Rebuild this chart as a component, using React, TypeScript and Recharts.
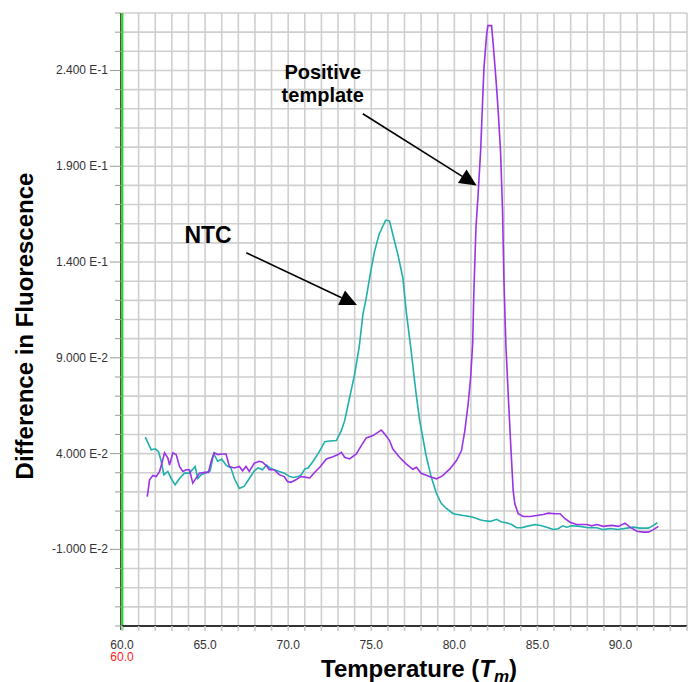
import React from 'react';
import { LineChart, Line, XAxis, YAxis, CartesianGrid, ReferenceLine, ReferenceDot } from 'recharts';

const FONT = '"Liberation Sans", Arial, sans-serif';

// NTC melt curve (teal)
const ntcTemp = [
  61.4, 61.76, 62.0, 62.2, 62.36, 62.52, 62.76, 62.96, 63.2, 63.46, 63.76, 64.06, 64.4, 64.56, 64.76,
  65.06, 65.3, 65.52, 65.76, 66.0, 66.26, 66.56, 66.76, 67.06, 67.36, 67.66, 67.96, 68.2, 68.45, 68.7,
  68.9, 69.16, 69.46, 69.76, 70.1, 70.3, 70.6, 70.8, 71.0, 71.2, 71.5, 71.8, 72.0, 72.2, 72.5, 72.9,
  73.2, 73.4, 73.7, 74.0, 74.27, 74.5, 74.7, 74.97, 75.2, 75.47, 75.7, 75.87, 76.1, 76.3, 76.6, 76.9,
  77.1, 77.4, 77.7, 77.9, 78.3, 78.6, 78.93, 79.2, 79.5, 79.93, 80.53, 80.93, 81.13, 81.54, 81.73,
  82.14, 82.34, 82.54, 82.84, 83.14, 83.45, 83.75, 84.05, 84.35, 84.85, 85.25, 85.65, 85.95, 86.25,
  86.52, 86.76, 87.06, 87.56, 88.06, 88.57, 88.96, 89.37, 89.87, 90.37, 90.77, 91.17, 91.67, 91.98, 92.22,
];
const ntcValue = [
  0.0486, 0.042, 0.0425, 0.041, 0.036, 0.029, 0.0307, 0.027, 0.0237, 0.027, 0.0298, 0.0298, 0.0333, 0.027, 0.029,
  0.03, 0.031, 0.04, 0.036, 0.037, 0.034, 0.0325, 0.027, 0.0218, 0.023, 0.027, 0.031, 0.0325, 0.0316, 0.034,
  0.0325, 0.0316, 0.0307, 0.0298, 0.028, 0.0275, 0.028, 0.029, 0.032, 0.0325, 0.036, 0.04, 0.043, 0.0462, 0.0466, 0.0468,
  0.052, 0.0572, 0.0693, 0.0815, 0.0954, 0.1128, 0.1214, 0.1353, 0.1457, 0.1544, 0.1588, 0.1619, 0.1614, 0.1544, 0.144, 0.1318,
  0.1145, 0.0936, 0.0711, 0.058, 0.039, 0.028, 0.019, 0.0142, 0.0115, 0.0086, 0.0077, 0.0072, 0.0068, 0.0055, 0.0051,
  0.0046, 0.0051, 0.0057, 0.0043, 0.0039, 0.003, 0.0013, 0.0013, 0.002, 0.003, 0.0023, 0.0013, 0.0004, 0.0008,
  0.0023, 0.0016, 0.0023, 0.002, 0.0013, 0.0013, 0.0003, 0.0009, 0.0004, 0.0011, 0.0016, 0.0011, 0.0011, 0.0025, 0.0039,
];

// Positive template melt curve (purple)
const posTemp = [
  61.52, 61.66, 61.86, 62.06, 62.26, 62.4, 62.56, 62.76, 62.86, 63.06, 63.26, 63.46, 63.66, 63.86, 64.06,
  64.26, 64.46, 64.66, 64.96, 65.2, 65.4, 65.56, 65.76, 66.0, 66.26, 66.46, 66.76, 67.06, 67.26, 67.46,
  67.66, 67.96, 68.26, 68.46, 68.7, 68.86, 69.16, 69.46, 69.76, 69.96, 70.16, 70.46, 70.76, 71.0, 71.3,
  71.6, 71.9, 72.3, 72.7, 73.0, 73.2, 73.4, 73.7, 74.1, 74.4, 74.7, 75.1, 75.4, 75.6, 75.8, 76.1, 76.3,
  76.7, 77.1, 77.5, 77.72, 78.0, 78.5, 78.93, 79.3, 79.73, 80.13, 80.43, 80.63, 80.83, 80.98, 81.1, 81.17,
  81.3, 81.43, 81.58, 81.7, 81.78, 81.94, 82.02, 82.24, 82.34, 82.5, 82.64, 82.78, 82.9, 82.98, 83.1,
  83.24, 83.39, 83.54, 83.64, 83.84, 84.15, 84.55, 84.95, 85.35, 85.65, 86.05, 86.36, 86.66, 86.96,
  87.36, 87.96, 88.27, 88.57, 88.96, 89.47, 89.87, 90.27, 90.57, 90.98, 91.37, 91.67, 91.98, 92.28,
];
const posValue = [
  0.0175, 0.0263, 0.0286, 0.028, 0.0307, 0.035, 0.0404, 0.0377, 0.034, 0.0404, 0.0395, 0.0333, 0.0307, 0.0316, 0.0316,
  0.0246, 0.0272, 0.0298, 0.0302, 0.0302, 0.037, 0.0404, 0.0395, 0.0398, 0.0398, 0.0333, 0.0325, 0.0333, 0.031, 0.0333,
  0.0307, 0.035, 0.036, 0.0355, 0.0335, 0.0316, 0.0316, 0.029, 0.028, 0.0254, 0.025, 0.0263, 0.028, 0.0277, 0.0273,
  0.0303, 0.0329, 0.0372, 0.0384, 0.0395, 0.0407, 0.0381, 0.0372, 0.0398, 0.0442, 0.0482, 0.0494, 0.0511, 0.0523, 0.0503, 0.0468, 0.0424,
  0.0381, 0.0346, 0.0318, 0.0329, 0.0297, 0.028, 0.0268, 0.0285, 0.032, 0.0364, 0.0416, 0.052, 0.0659, 0.0797, 0.097, 0.1232,
  0.1579, 0.1753, 0.1978, 0.2239, 0.2412, 0.2586, 0.2634, 0.2634, 0.2534, 0.236, 0.2186, 0.1978, 0.1666, 0.1318, 0.097,
  0.0711, 0.045, 0.0207, 0.0138, 0.0086, 0.0072, 0.0072, 0.0077, 0.0082, 0.0089, 0.0086, 0.0086, 0.006, 0.0042,
  0.003, 0.003, 0.0023, 0.003, 0.002, 0.0025, 0.002, 0.0037, 0.0016, -0.0005, -0.001, -0.001, 0.0003, 0.002,
];

const xTicks = Array.from({ length: 35 }, (_, i) => 60 + i);
const xLabelTicks = [60, 65, 70, 75, 80, 85, 90];
const yTicks = Array.from({ length: 33 }, (_, i) => Math.round((-0.05 + i * 0.01) * 1000) / 1000);
const yMajorTicks = [-0.01, 0.04, 0.09, 0.14, 0.19, 0.24];
const yMajorLabels = ['-1.000 E-2', '4.000 E-2', '9.000 E-2', '1.400 E-1', '1.900 E-1', '2.400 E-1'];

const ntcData = ntcTemp.map((t, i) => ({ t, v: ntcValue[i] }));
const posData = posTemp.map((t, i) => ({ t, v: posValue[i] }));

function YTick(props: any) {
  const { x, y, payload } = props;
  const idx = yMajorTicks.findIndex((m) => Math.abs(m - payload.value) < 1e-6);
  if (idx < 0) {
    return <line x1={x - 7} y1={y} x2={x - 1} y2={y} stroke="#999" strokeWidth={1} />;
  }
  return (
    <g>
      <line x1={x - 12} y1={y} x2={x - 1} y2={y} stroke="#999" strokeWidth={1} />
      <text x={x - 14} y={y} dy={4} textAnchor="end" fontSize={12} fill="#333" fontFamily={FONT}>
        {yMajorLabels[idx]}
      </text>
    </g>
  );
}

function XTick(props: any) {
  const { x, y, payload } = props;
  if (!xLabelTicks.includes(payload.value)) return null;
  const label = payload.value.toFixed(1);
  return (
    <g>
      <text x={x} y={y} dy={18} textAnchor="middle" fontSize={12} fill="#333" fontFamily={FONT}>
        {label}
      </text>
      {payload.value === 60 && (
        <text x={x} y={y} dy={30} textAnchor="middle" fontSize={12} fill="#ff2020" fontFamily={FONT}>
          {label}
        </text>
      )}
    </g>
  );
}

function XTitle(props: any) {
  const { viewBox } = props;
  return (
    <text x={viewBox.x + 199} y={viewBox.y + 51} fontSize={24} fontWeight="bold" fill="#000" fontFamily={FONT}>
      Temperature (<tspan fontStyle="italic">T</tspan>
      <tspan fontStyle="italic" fontSize={17} dy={5}>m</tspan>
      <tspan dy={-5}>)</tspan>
    </text>
  );
}

function YTitle(props: any) {
  const { viewBox } = props;
  const cx = viewBox.x + 33;
  const cy = viewBox.y + 313;
  return (
    <text x={cx} y={cy} transform={`rotate(-90, ${cx}, ${cy})`} textAnchor="middle" fontSize={24}
      fontWeight="bold" fill="#000" fontFamily={FONT}>
      Difference in Fluorescence
    </text>
  );
}

function Arrow(props: any) {
  const { x1, y1, x2, y2 } = props;
  const dx = x2 - x1;
  const dy = y2 - y1;
  const len = Math.hypot(dx, dy) || 1;
  const ux = dx / len;
  const uy = dy / len;
  const hl = 17;
  const hw = 8;
  const bx = x2 - ux * hl;
  const by = y2 - uy * hl;
  return (
    <g>
      <line x1={x1} y1={y1} x2={bx} y2={by} stroke="#000" strokeWidth={1.6} />
      <polygon points={`${x2},${y2} ${bx - uy * hw},${by + ux * hw} ${bx + uy * hw},${by - ux * hw}`} fill="#000" />
    </g>
  );
}

function LeftAxis(props: any) {
  const { x1, y1, y2 } = props;
  const top = Math.min(y1, y2);
  const bottom = Math.max(y1, y2);
  return (
    <g>
      <line x1={x1 - 1.2} y1={top} x2={x1 - 1.2} y2={bottom + 4} stroke="#000" strokeWidth={1} />
      <line x1={x1 + 0.4} y1={top} x2={x1 + 0.4} y2={bottom + 4} stroke="#22dd22" strokeWidth={2} />
    </g>
  );
}

export default function App() {
  return (
    <div style={{ position: 'absolute', left: 0, top: 0, width: 689, height: 682, background: '#fff' }}>
      <LineChart width={689} height={682} margin={{ top: 13, right: 2, bottom: 0, left: 0 }}>
        <CartesianGrid stroke="#cfcfcf" strokeWidth={1.6} />
        <XAxis
          type="number"
          dataKey="t"
          domain={[60, 94]}
          ticks={xTicks}
          interval={0}
          allowDataOverflow
          height={56}
          tickSize={5}
          tickMargin={0}
          tickLine={{ stroke: '#c8c8c8', strokeWidth: 1.6 }}
          axisLine={{ stroke: '#333', strokeWidth: 2 }}
          tick={<XTick />}
          label={{ content: <XTitle /> }}
        />
        <YAxis
          type="number"
          dataKey="v"
          domain={[-0.05, 0.27]}
          ticks={yTicks}
          interval={0}
          allowDataOverflow
          width={122}
          tickSize={0}
          tickMargin={0}
          tickLine={false}
          axisLine={false}
          tick={<YTick />}
          label={{ content: <YTitle /> }}
        />
        <ReferenceLine x={60} shape={<LeftAxis />} ifOverflow="visible" />
        <Line data={ntcData} dataKey="v" type="linear" stroke="#1fb0aa" strokeWidth={1.6} dot={false}
          isAnimationActive={false} />
        <Line data={posData} dataKey="v" type="linear" stroke="#9a33e6" strokeWidth={1.6} dot={false}
          isAnimationActive={false} />
        <ReferenceLine segment={[{ x: 67.48, y: 0.1448 }, { x: 74.14, y: 0.1176 }]} shape={<Arrow />}
          ifOverflow="visible" />
        <ReferenceLine segment={[{ x: 74.49, y: 0.2174 }, { x: 81.34, y: 0.18 }]} shape={<Arrow />}
          ifOverflow="visible" />
        <ReferenceDot x={65.18} y={0.1544} r={0} ifOverflow="visible"
          shape={(p: any) => (
            <text x={p.cx} y={p.cy} dy={8.3} textAnchor="middle" fontSize={23} fontWeight="bold" fill="#000"
              fontFamily={FONT}>NTC</text>
          )} />
        <ReferenceDot x={72.08} y={0.2357} r={0} ifOverflow="visible"
          shape={(p: any) => (
            <text x={p.cx} y={p.cy} textAnchor="middle" fontSize={20} fontWeight="bold" fill="#000" fontFamily={FONT}>
              <tspan x={p.cx}>Positive</tspan>
              <tspan x={p.cx} dy={23.4}>template</tspan>
            </text>
          )} />
      </LineChart>
    </div>
  );
}
